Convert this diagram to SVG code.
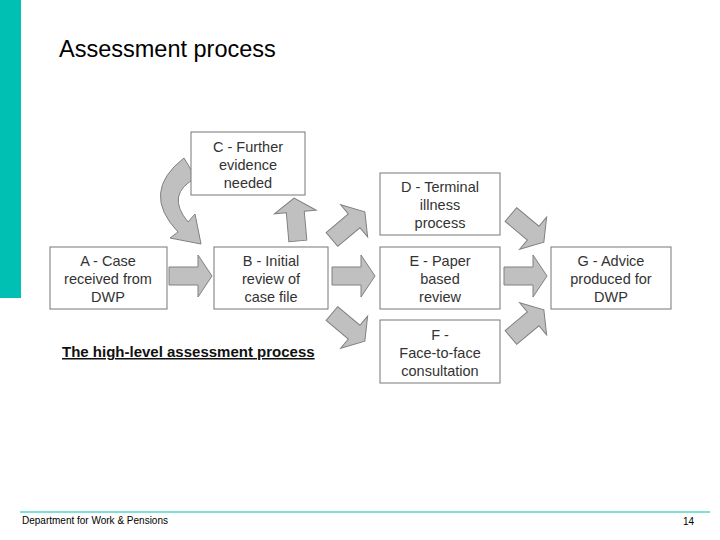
<svg xmlns="http://www.w3.org/2000/svg" width="720" height="540" viewBox="0 0 720 540">
<style>
.box{fill:#fff;stroke:#777;stroke-width:1}
.t{font-family:"Liberation Sans",Arial,sans-serif;font-size:14.5px;fill:#333;text-anchor:middle}
.arr{fill:#c0c0c0;stroke:#808080;stroke-width:1}
</style>
<defs>
<path id="ba" d="M-21,-9 L8,-9 L8,-21 L22,0 L8,21 L8,9 L-21,9 Z"/>
</defs>
<rect width="720" height="540" fill="#fff"/>
<rect x="0" y="0" width="21" height="298" fill="#00bfb3"/>
<text x="59" y="57" font-family="Liberation Sans,Arial,sans-serif" font-size="23.5" fill="#000">Assessment process</text>
<g id="connectors">
<use href="#ba" class="arr" transform="translate(190,276)"/>
<use href="#ba" class="arr" transform="translate(353,276)"/>
<use href="#ba" class="arr" transform="translate(525,276)"/>
<use href="#ba" class="arr" transform="translate(348,226) rotate(-40)"/>
<use href="#ba" class="arr" transform="translate(348,327) rotate(40)"/>
<use href="#ba" class="arr" transform="translate(527,228) rotate(40)"/>
<use href="#ba" class="arr" transform="translate(527,324) rotate(-40)"/>
<use href="#ba" class="arr" transform="translate(296,220) rotate(-95)"/>
<path class="arr" d="M184,158 Q140,192 178,232 L170,238 L201,244 L195,214 L188,222 Q165,194 196,178 Z"/>
</g>
<g id="A"><rect class="box" x="50" y="247" width="117" height="62"/><text class="t" x="108" y="266">A - Case</text><text class="t" x="108" y="284">received from</text><text class="t" x="108" y="302">DWP</text></g>
<g id="B"><rect class="box" x="214" y="247" width="114" height="62"/><text class="t" x="271" y="266">B - Initial</text><text class="t" x="271" y="284">review of</text><text class="t" x="271" y="302">case file</text></g>
<g id="C"><rect class="box" x="191" y="132" width="114" height="63"/><text class="t" x="248" y="152">C - Further</text><text class="t" x="248" y="170">evidence</text><text class="t" x="248" y="188">needed</text></g>
<g id="D"><rect class="box" x="380" y="173" width="120" height="62"/><text class="t" x="440" y="192">D - Terminal</text><text class="t" x="440" y="210">illness</text><text class="t" x="440" y="228">process</text></g>
<g id="E"><rect class="box" x="380" y="247" width="120" height="62"/><text class="t" x="440" y="266">E - Paper</text><text class="t" x="440" y="284">based</text><text class="t" x="440" y="302">review</text></g>
<g id="F"><rect class="box" x="380" y="320" width="120" height="63"/><text class="t" x="440" y="340">F -</text><text class="t" x="440" y="358">Face-to-face</text><text class="t" x="440" y="376">consultation</text></g>
<g id="G"><rect class="box" x="551" y="247" width="120" height="62"/><text class="t" x="611" y="266">G - Advice</text><text class="t" x="611" y="284">produced for</text><text class="t" x="611" y="302">DWP</text></g>
<text x="62" y="357" font-family="Liberation Sans,Arial,sans-serif" font-size="15" font-weight="bold" text-decoration="underline" fill="#111">The high-level assessment process</text>
<line x1="20" y1="512" x2="710" y2="512" stroke="#00bfb3" stroke-width="1"/>
<text x="22" y="524" font-family="Liberation Sans,Arial,sans-serif" font-size="10" fill="#000">Department for Work &amp; Pensions</text>
<text x="694" y="525" font-family="Liberation Sans,Arial,sans-serif" font-size="10" fill="#000" text-anchor="end">14</text>
</svg>
